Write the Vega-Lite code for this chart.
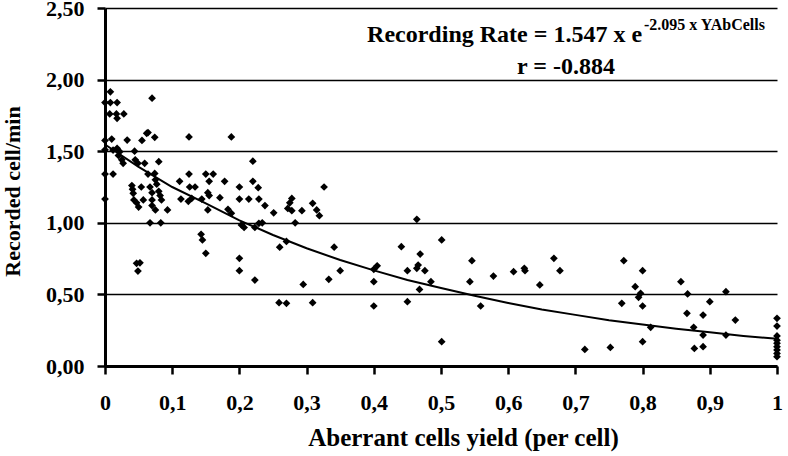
{
  "$schema": "https://vega.github.io/schema/vega-lite/v6.json",
  "width": 672,
  "height": 358,
  "autosize": {"type": "none"},
  "padding": {"left": 105, "top": 8, "right": 11, "bottom": 90},
  "background": "white",
  "config": {
    "view": {"stroke": null},
    "font": "Liberation Serif",
    "axis": {
      "labelFont": "Liberation Serif",
      "labelFontWeight": "bold",
      "labelFontSize": 22,
      "labelColor": "black",
      "titleFont": "Liberation Serif",
      "titleFontWeight": "bold",
      "titleColor": "black",
      "domainColor": "black",
      "domainWidth": 3,
      "tickColor": "black",
      "tickWidth": 2.5,
      "tickSize": 8
    }
  },
  "datasets": {
    "pts": [
      {"yield": 0, "rate": 1.84}, {"yield": 0.008, "rate": 1.915}, {"yield": 0.008, "rate": 1.84}, {"yield": 0.018, "rate": 1.84},
      {"yield": 0.007, "rate": 1.76}, {"yield": 0.017, "rate": 1.76}, {"yield": 0.028, "rate": 1.76}, {"yield": 0.018, "rate": 1.73},
      {"yield": 0.07, "rate": 1.87}, {"yield": 0, "rate": 1.575}, {"yield": 0.01, "rate": 1.585}, {"yield": 0.033, "rate": 1.578},
      {"yield": 0.055, "rate": 1.575}, {"yield": 0.062, "rate": 1.625}, {"yield": 0.064, "rate": 1.63}, {"yield": 0.074, "rate": 1.597},
      {"yield": 0.125, "rate": 1.6}, {"yield": 0, "rate": 1.51}, {"yield": 0.012, "rate": 1.508}, {"yield": 0.018, "rate": 1.52},
      {"yield": 0.022, "rate": 1.497}, {"yield": 0.02, "rate": 1.47}, {"yield": 0.025, "rate": 1.44}, {"yield": 0.027, "rate": 1.415},
      {"yield": 0.044, "rate": 1.5}, {"yield": 0.045, "rate": 1.44}, {"yield": 0.049, "rate": 1.415}, {"yield": 0.059, "rate": 1.415},
      {"yield": 0.08, "rate": 1.427}, {"yield": 0.064, "rate": 1.34}, {"yield": 0.074, "rate": 1.345}, {"yield": 0.075, "rate": 1.3},
      {"yield": 0.077, "rate": 1.27}, {"yield": 0, "rate": 1.34}, {"yield": 0.012, "rate": 1.34}, {"yield": 0, "rate": 1.166},
      {"yield": 0.04, "rate": 1.26}, {"yield": 0.041, "rate": 1.234}, {"yield": 0.042, "rate": 1.206}, {"yield": 0.043, "rate": 1.16},
      {"yield": 0.047, "rate": 1.14}, {"yield": 0.05, "rate": 1.11}, {"yield": 0.057, "rate": 1.16}, {"yield": 0.054, "rate": 1.25},
      {"yield": 0.067, "rate": 1.25}, {"yield": 0.07, "rate": 1.21}, {"yield": 0.08, "rate": 1.22}, {"yield": 0.082, "rate": 1.19},
      {"yield": 0.084, "rate": 1.16}, {"yield": 0.075, "rate": 1.09}, {"yield": 0.093, "rate": 1.09}, {"yield": 0.067, "rate": 1.0},
      {"yield": 0.083, "rate": 1.0}, {"yield": 0.07, "rate": 1.16}, {"yield": 0.07, "rate": 1.12}, {"yield": 0.047, "rate": 0.717},
      {"yield": 0.052, "rate": 0.721}, {"yield": 0.049, "rate": 0.663},
      {"yield": 0.111, "rate": 1.29}, {"yield": 0.113, "rate": 1.166}, {"yield": 0.125, "rate": 1.34}, {"yield": 0.126, "rate": 1.25},
      {"yield": 0.124, "rate": 1.15}, {"yield": 0.129, "rate": 1.17}, {"yield": 0.134, "rate": 1.25}, {"yield": 0.144, "rate": 1.166},
      {"yield": 0.15, "rate": 1.34}, {"yield": 0.161, "rate": 1.34}, {"yield": 0.155, "rate": 1.29}, {"yield": 0.153, "rate": 1.21},
      {"yield": 0.153, "rate": 1.09}, {"yield": 0.155, "rate": 1.19}, {"yield": 0.171, "rate": 1.175}, {"yield": 0.178, "rate": 1.29},
      {"yield": 0.183, "rate": 1.094}, {"yield": 0.188, "rate": 1.066}, {"yield": 0.188, "rate": 1.6}, {"yield": 0.2, "rate": 1.25},
      {"yield": 0.22, "rate": 1.29}, {"yield": 0.228, "rate": 1.245}, {"yield": 0.2, "rate": 1.166}, {"yield": 0.214, "rate": 1.166},
      {"yield": 0.229, "rate": 1.166}, {"yield": 0.238, "rate": 1.12}, {"yield": 0.251, "rate": 1.07}, {"yield": 0.22, "rate": 1.43},
      {"yield": 0.203, "rate": 0.985}, {"yield": 0.207, "rate": 0.968}, {"yield": 0.223, "rate": 0.968}, {"yield": 0.229, "rate": 0.996},
      {"yield": 0.234, "rate": 1.0}, {"yield": 0.283, "rate": 1.0}, {"yield": 0.278, "rate": 1.17}, {"yield": 0.275, "rate": 1.14},
      {"yield": 0.272, "rate": 1.1}, {"yield": 0.278, "rate": 1.085}, {"yield": 0.293, "rate": 1.085}, {"yield": 0.309, "rate": 1.136},
      {"yield": 0.315, "rate": 1.09}, {"yield": 0.319, "rate": 1.05}, {"yield": 0.326, "rate": 1.25}, {"yield": 0.143, "rate": 0.92},
      {"yield": 0.145, "rate": 0.88}, {"yield": 0.15, "rate": 0.787}, {"yield": 0.2, "rate": 0.752}, {"yield": 0.2, "rate": 0.666},
      {"yield": 0.223, "rate": 0.6}, {"yield": 0.26, "rate": 0.83}, {"yield": 0.27, "rate": 0.87}, {"yield": 0.259, "rate": 0.442},
      {"yield": 0.27, "rate": 0.438}, {"yield": 0.295, "rate": 0.57}, {"yield": 0.309, "rate": 0.442}, {"yield": 0.333, "rate": 0.605},
      {"yield": 0.341, "rate": 0.83}, {"yield": 0.35, "rate": 0.666},
      {"yield": 0.4, "rate": 0.675}, {"yield": 0.405, "rate": 0.7}, {"yield": 0.4, "rate": 0.589}, {"yield": 0.4, "rate": 0.419},
      {"yield": 0.441, "rate": 0.833}, {"yield": 0.464, "rate": 1.024}, {"yield": 0.469, "rate": 0.782}, {"yield": 0.501, "rate": 0.88},
      {"yield": 0.45, "rate": 0.666}, {"yield": 0.464, "rate": 0.682}, {"yield": 0.466, "rate": 0.705}, {"yield": 0.476, "rate": 0.666},
      {"yield": 0.485, "rate": 0.589}, {"yield": 0.468, "rate": 0.535}, {"yield": 0.45, "rate": 0.449}, {"yield": 0.501, "rate": 0.17},
      {"yield": 0.546, "rate": 0.735}, {"yield": 0.543, "rate": 0.589}, {"yield": 0.559, "rate": 0.419}, {"yield": 0.578, "rate": 0.628},
      {"yield": 0.608, "rate": 0.659}, {"yield": 0.624, "rate": 0.682}, {"yield": 0.625, "rate": 0.666}, {"yield": 0.647, "rate": 0.566},
      {"yield": 0.668, "rate": 0.752}, {"yield": 0.677, "rate": 0.666}, {"yield": 0.714, "rate": 0.116}, {"yield": 0.752, "rate": 0.13},
      {"yield": 0.772, "rate": 0.735}, {"yield": 0.769, "rate": 0.438}, {"yield": 0.789, "rate": 0.554}, {"yield": 0.8, "rate": 0.666},
      {"yield": 0.797, "rate": 0.508}, {"yield": 0.794, "rate": 0.48}, {"yield": 0.8, "rate": 0.419}, {"yield": 0.8, "rate": 0.17},
      {"yield": 0.812, "rate": 0.27}, {"yield": 0.857, "rate": 0.589}, {"yield": 0.867, "rate": 0.503}, {"yield": 0.866, "rate": 0.368},
      {"yield": 0.876, "rate": 0.27}, {"yield": 0.877, "rate": 0.123}, {"yield": 0.89, "rate": 0.356}, {"yield": 0.89, "rate": 0.216},
      {"yield": 0.89, "rate": 0.135}, {"yield": 0.9, "rate": 0.449}, {"yield": 0.924, "rate": 0.519}, {"yield": 0.924, "rate": 0.216},
      {"yield": 0.938, "rate": 0.321}, {"yield": 1, "rate": 0.333}, {"yield": 1, "rate": 0.279}, {"yield": 1, "rate": 0.21},
      {"yield": 1, "rate": 0.18}, {"yield": 1, "rate": 0.158}, {"yield": 1, "rate": 0.135}, {"yield": 1, "rate": 0.112},
      {"yield": 1, "rate": 0.088}, {"yield": 1, "rate": 0.065}
    ],
    "fit": [
      {"yield": 0, "rate": 1.547}, {"yield": 0.05, "rate": 1.39}, {"yield": 0.1, "rate": 1.25}, {"yield": 0.15, "rate": 1.135},
      {"yield": 0.2, "rate": 1.017}, {"yield": 0.25, "rate": 0.915}, {"yield": 0.3, "rate": 0.822}, {"yield": 0.35, "rate": 0.74},
      {"yield": 0.4, "rate": 0.668}, {"yield": 0.45, "rate": 0.6}, {"yield": 0.5, "rate": 0.545}, {"yield": 0.55, "rate": 0.49},
      {"yield": 0.6, "rate": 0.44}, {"yield": 0.65, "rate": 0.395}, {"yield": 0.7, "rate": 0.357}, {"yield": 0.75, "rate": 0.32},
      {"yield": 0.8, "rate": 0.29}, {"yield": 0.85, "rate": 0.26}, {"yield": 0.9, "rate": 0.235}, {"yield": 0.95, "rate": 0.21},
      {"yield": 1, "rate": 0.19}
    ]
  },
  "layer": [
    {
      "data": {"name": "pts"},
      "mark": {"type": "point", "shape": "diamond", "filled": true, "color": "black", "size": 60, "opacity": 1},
      "encoding": {
        "x": {
          "field": "yield", "type": "quantitative",
          "scale": {"domain": [0, 1], "nice": false},
          "axis": {
            "title": "Aberrant cells yield (per cell)",
            "titleFontSize": 25,
            "titleX": 358,
            "titleY": 71,
            "titleBaseline": "middle",
            "values": [0, 0.1, 0.2, 0.3, 0.4, 0.5, 0.6, 0.7, 0.8, 0.9, 1],
            "labelExpr": "datum.value == 0 ? '0' : datum.value == 1 ? '1' : replace(format(datum.value, '.1f'), '.', ',')",
            "labelPadding": 18,
            "labelFlush": false,
            "grid": false
          }
        },
        "y": {
          "field": "rate", "type": "quantitative",
          "scale": {"domain": [0, 2.5], "nice": false},
          "axis": {
            "title": "Recorded cell/min",
            "titleFontSize": 22,
            "titleX": -93,
            "titleY": 183,
            "titleAngle": 270,
            "titleBaseline": "middle",
            "titleAlign": "center",
            "values": [0, 0.5, 1, 1.5, 2, 2.5],
            "labelExpr": "replace(format(datum.value, '.2f'), '.', ',')",
            "labelPadding": 13,
            "labelFlush": false,
            "grid": true,
            "gridColor": "black",
            "gridWidth": 1.5,
            "gridOpacity": 1
          }
        }
      }
    },
    {
      "data": {"name": "fit"},
      "mark": {"type": "line", "color": "black", "strokeWidth": 2},
      "encoding": {
        "x": {"field": "yield", "type": "quantitative"},
        "y": {"field": "rate", "type": "quantitative"}
      }
    },
    {
      "data": {"values": [{"label": "Recording Rate = 1.547 x e", "lx": 0.39, "ly": 2.31}]},
      "mark": {"type": "text", "font": "Liberation Serif", "fontWeight": "bold", "fontSize": 24, "align": "left", "baseline": "middle", "color": "black"},
      "encoding": {
        "x": {"field": "lx", "type": "quantitative"},
        "y": {"field": "ly", "type": "quantitative"},
        "text": {"field": "label"}
      }
    },
    {
      "data": {"values": [{"label": "-2.095 x YAbCells", "lx": 0.802, "ly": 2.38}]},
      "mark": {"type": "text", "font": "Liberation Serif", "fontWeight": "bold", "fontSize": 16, "align": "left", "baseline": "middle", "color": "black"},
      "encoding": {
        "x": {"field": "lx", "type": "quantitative"},
        "y": {"field": "ly", "type": "quantitative"},
        "text": {"field": "label"}
      }
    },
    {
      "data": {"values": [{"label": "r = -0.884", "lx": 0.686, "ly": 2.088}]},
      "mark": {"type": "text", "font": "Liberation Serif", "fontWeight": "bold", "fontSize": 24, "align": "center", "baseline": "middle", "color": "black"},
      "encoding": {
        "x": {"field": "lx", "type": "quantitative"},
        "y": {"field": "ly", "type": "quantitative"},
        "text": {"field": "label"}
      }
    }
  ]
}
